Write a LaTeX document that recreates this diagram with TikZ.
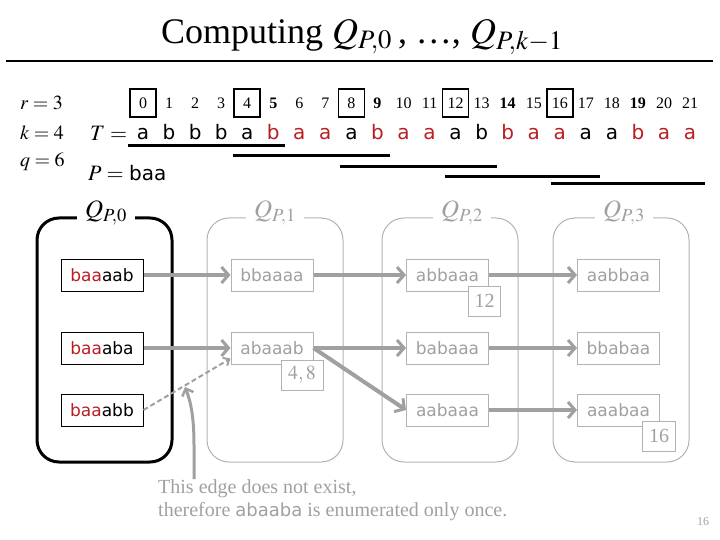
\documentclass[tikz,border=0pt]{standalone}
\usepackage{mathptmx}
\usepackage{fontspec}
\setmainfont{Liberation Serif}
\newfontfamily\strf{DejaVu Sans}
\usetikzlibrary{arrows.meta,calc}
\definecolor{rd}{RGB}{185,30,35}
\definecolor{gr}{RGB}{160,160,160}
\definecolor{grl}{RGB}{178,178,178}
\newcommand\fs[1]{\fontsize{#1}{#1}\selectfont}
\tikzset{
  idx/.style={inner sep=0pt,font=\fs{16}},
  idxbox/.style={idx,draw,line width=1.5pt,minimum width=26pt,minimum height=28pt},
  tl/.style={inner sep=0pt,font=\strf\fs{20}},
  ul/.style={line width=3pt},
  sbox/.style={draw,line width=1pt,minimum width=82pt,minimum height=32pt,inner sep=0pt,font=\strf\fs{17}},
  gbox/.style={sbox,draw=grl,text=gr},
  lbox/.style={draw=grl,fill=white,text=gr,line width=1pt,minimum height=30pt,inner sep=5pt,font=\fs{20},anchor=north east},
  colblk/.style={draw,line width=3pt,rounded corners=22pt},
  colgry/.style={draw=grl,line width=1pt,rounded corners=22pt},
  qlab/.style={fill=white,inner sep=8pt,font=\fs{25}},
  arr/.style={draw=gr,line width=4pt,-{Straight Barb[length=7pt,width=16pt,line width=3pt]}},
  darr/.style={draw=gr,line width=2pt,dash pattern=on 5pt off 3pt,-{Straight Barb[length=5pt,width=9pt,line width=2pt]}},
  callout/.style={draw=gr,line width=3pt,-{Straight Barb[length=6pt,width=12pt,line width=2.5pt]}},
}
\begin{document}
\begin{tikzpicture}[x=1pt,y=-1pt]
\useasboundingbox (0,0) rectangle (720,540);
% title
\node[font=\fs{36},inner sep=0pt] (title) at (362,37) {Computing $Q_{P,0}$\,, …, $Q_{P,k-1}$};
\draw[line width=2pt] (6,61) -- (713,61);
% parameters
\node[anchor=west,inner sep=0pt,font=\fs{20}] (r) at (20,103) {$r=3$};
\node[anchor=west,inner sep=0pt,font=\fs{20}] (k) at (20,133) {$k=4$};
\node[anchor=west,inner sep=0pt,font=\fs{20}] (q) at (20,162) {$q=6$};
\node[anchor=west,inner sep=0pt,font=\fs{22}] (T) at (90,133) {$T=$};
\node[anchor=west,inner sep=0pt,font=\fs{22}] (P) at (88,173) {$P=$ {\strf\fs{20}baa}};
% indices
\foreach \i/\s in {0/b,1/n,2/n,3/n,4/b,5/f,6/n,7/n,8/b,9/f,10/n,11/n,12/b,13/n,14/f,15/n,16/b,17/n,18/n,19/f,20/n,21/n}{
  \if\s b\node[idxbox] (i\i) at ({143+26.05*\i},103) {\i};\fi
  \if\s n\node[idx] (i\i) at ({143+26.05*\i},103) {\i};\fi
  \if\s f\node[idx] (i\i) at ({143+26.05*\i},103) {\textbf{\i}};\fi
}
% text T
\foreach \i/\c/\k in {0/a/black,1/b/black,2/b/black,3/b/black,4/a/black,5/b/rd,6/a/rd,7/a/rd,8/a/black,9/b/rd,10/a/rd,11/a/rd,12/a/black,13/b/black,14/b/rd,15/a/rd,16/a/rd,17/a/black,18/a/black,19/b/rd,20/a/rd,21/a/rd}{
  \node[tl,text=\k,anchor=base] (t\i) at ({143+26.05*\i},140) {\c};
}
% windows
\draw[ul] (128,146) -- (285,146);
\draw[ul] (233,156) -- (390,156);
\draw[ul] (340,167) -- (497,167);
\draw[ul] (445,177) -- (600,177);
\draw[ul] (551,184) -- (705,184);
% columns
\draw[colblk] (37,218) rectangle (172,462);
\draw[colgry] (207,218) rectangle (343,462);
\draw[colgry] (382,218) rectangle (518,462);
\draw[colgry] (553,218) rectangle (689,462);
\node[qlab] (q0) at (106,213) {$Q_{P,0}$};
\node[qlab,text=gr] (q1) at (275,213) {$Q_{P,1}$};
\node[qlab,text=gr] (q2) at (462,213) {$Q_{P,2}$};
\node[qlab,text=gr] (q3) at (624,213) {$Q_{P,3}$};
% strings
\node[sbox] (a1) at (102,275) {\textcolor{rd}{baa}aab};
\node[sbox] (a2) at (102,348) {\textcolor{rd}{baa}aba};
\node[sbox] (a3) at (102,410) {\textcolor{rd}{baa}abb};
\node[gbox] (b1) at (272,275) {bbaaaa};
\node[gbox] (b2) at (272,348) {abaaab};
\node[gbox] (c1) at (447.5,275) {abbaaa};
\node[gbox] (c2) at (447.5,348) {babaaa};
\node[gbox] (c3) at (447.5,410) {aabaaa};
\node[gbox] (d1) at (618.5,275) {aabbaa};
\node[gbox] (d2) at (618.5,348) {bbabaa};
\node[gbox] (d3) at (618.5,410) {aaabaa};
% arrows
\draw[arr] (a1) -- (b1);
\draw[arr] (b1) -- (c1);
\draw[arr] (c1) -- (d1);
\draw[arr] (a2) -- (b2);
\draw[arr] (b2) -- (c2);
\draw[arr] (c2) -- (d2);
\draw[arr] (b2.east) -- (c3.west);
\draw[arr] (c3) -- (d3);
\coordinate (dend) at ($(b2.south west)+(0,-6)$);
\draw[darr] (a3.east) -- (dend);
% label boxes
\node[lbox,minimum width=42pt] (l48) at ($(b2.south east)+(10,-5)$) {$4,8$};
\node[lbox,minimum width=32pt] (l12) at ($(c1.south east)+(12,-6)$) {12};
\node[lbox,minimum width=33pt] (l16) at ($(d3.south east)+(16,-6)$) {16};
% callout
\coordinate (cstart) at (194,479);
\coordinate (ctip) at (185,387);
\draw[callout] (cstart) -- (194,445) .. controls (194,418) and (191,402) .. (ctip);
\node[anchor=north west,align=left,text=gr,font=\fs{20},inner sep=0pt] (note) at (158,479)
  {This edge does not exist,\\[3pt]therefore {\strf\fs{18}abaaba} is enumerated only once.};
\node[text=gr,font=\fs{12},inner sep=0pt] (pg) at (703,522) {16};
\end{tikzpicture}
\end{document}
